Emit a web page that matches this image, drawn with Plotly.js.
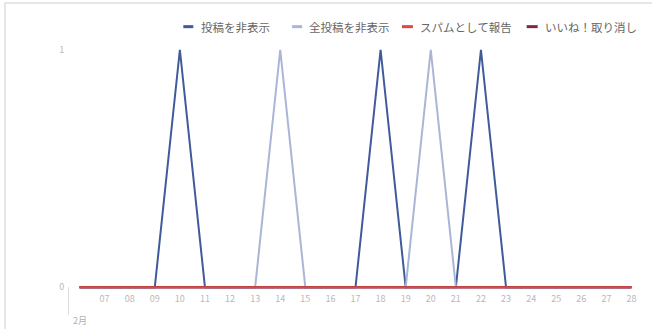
<!DOCTYPE html>
<html><head><meta charset="utf-8">
<script src="https://cdn.plot.ly/plotly-3.0.1.min.js"></script>
<style>
html,body{margin:0;padding:0;background:#fff;}
#wrap{position:relative;width:652px;height:329px;overflow:hidden;}
#chart{width:652px;height:329px;}
#frame{position:absolute;left:4px;top:2px;width:660px;height:325px;border-left:2px solid #e6e6e8;border-top:2px solid #e6e6e8;border-bottom:1px solid #eeeeee;pointer-events:none;}
</style></head>
<body><div id="wrap"><div id="chart"></div><div id="frame"></div></div>
<script>
const days = ['06','07','08','09','10','11','12','13','14','15','16','17','18','19','20','21','22','23','24','25','26','27','28'];
const hidePost   = [0,0,0,0,1,0,0,0,0,0,0,0,1,0,0,0,1,0,0,0,0,0,0];
const hideAll    = [0,0,0,0,0,0,0,0,1,0,0,0,0,0,1,0,0,0,0,0,0,0,0];
const spamReport = [0,0,0,0,0,0,0,0,0,0,0,0,0,0,0,0,0,0,0,0,0,0,0];
const unlike     = [0,0,0,0,0,0,0,0,0,0,0,0,0,0,0,0,0,0,0,0,0,0,0];
const seriesNames = ['投稿を非表示','全投稿を非表示','スパムとして報告','いいね！取り消し'];
const seriesColors = ['#3f5b9a','#aab6d6','#db4a3f','#7b2a45'];
const monthLabel = '2月';
const yTicks = [0,1];

const xNum = days.map(d => parseInt(d,10));
const tickVals = xNum.slice(1);
const tickText = days.slice(1);

const W = 652, H = 329;
const xr = [5.9, 28.1], yr = [-0.02, 1.02];
const m = {l:76.5, r:17.5, t:45.3, b:37.3};
const pw = W - m.l - m.r, ph = H - m.t - m.b;
const px2paper = px => (px - m.l) / pw;
const py2paper = py => 1 - (py - m.t) / ph;

const allVals = [hidePost, hideAll, spamReport, unlike];
const widths = [2, 2, 2, 2.5];
const drawOrder = [0, 1, 3, 2];
const data = drawOrder.map(i => ({
  type:'scatter', mode:'lines', x:xNum, y:allVals[i], name:seriesNames[i],
  line:{color:seriesColors[i], width:widths[i]}, showlegend:false, hoverinfo:'skip'
}));

// custom legend (short line symbols)
const legendItems = [
  {line:[183,193], text:199},
  {line:[292,302], text:307},
  {line:[402,413], text:418},
  {line:[527,538], text:543}
];
const legY = 27;
const shapes = legendItems.map((it,i) => ({
  type:'line', xref:'paper', yref:'paper',
  x0:px2paper(it.line[0]), x1:px2paper(it.line[1]),
  y0:py2paper(legY), y1:py2paper(legY),
  line:{color:seriesColors[i], width:3}
}));
shapes.push({type:'line', xref:'paper', yref:'paper',
  x0:px2paper(68), x1:px2paper(68), y0:py2paper(287), y1:py2paper(314),
  line:{color:'#dcdcdc', width:1}});
const annotations = legendItems.map((it,i) => ({
  xref:'paper', yref:'paper', x:px2paper(it.text), y:py2paper(legY),
  xanchor:'left', yanchor:'middle', showarrow:false, text:seriesNames[i],
  font:{family:'"Noto Sans CJK JP", sans-serif', size:11.5, color:'#666'}
}));
annotations.push({xref:'paper', yref:'paper', x:px2paper(80), y:py2paper(320),
  xanchor:'center', yanchor:'middle', showarrow:false, text:monthLabel,
  font:{family:'"Noto Sans CJK JP", sans-serif', size:9, color:'#b0b0b0'}});

const layout = {
  width:W, height:H, margin:m, paper_bgcolor:'#fff', plot_bgcolor:'#fff',
  showlegend:false,
  font:{family:'"Noto Sans CJK JP", sans-serif', color:'#999'},
  xaxis:{range:xr, tickvals:tickVals, ticktext:tickText, showgrid:false, zeroline:false,
    showline:false, ticks:'', tickfont:{size:9, color:'#b8b8b8'}, fixedrange:true},
  yaxis:{range:yr, tickvals:yTicks, ticktext:yTicks.map(String), showgrid:false, zeroline:false,
    showline:false, ticks:'outside', ticklen:10, tickcolor:'#ffffff', tickfont:{size:9, color:'#b8b8b8'}, fixedrange:true},
  shapes:shapes, annotations:annotations
};
Plotly.newPlot('chart', data, layout, {displayModeBar:false, staticPlot:true});
</script></body></html>
